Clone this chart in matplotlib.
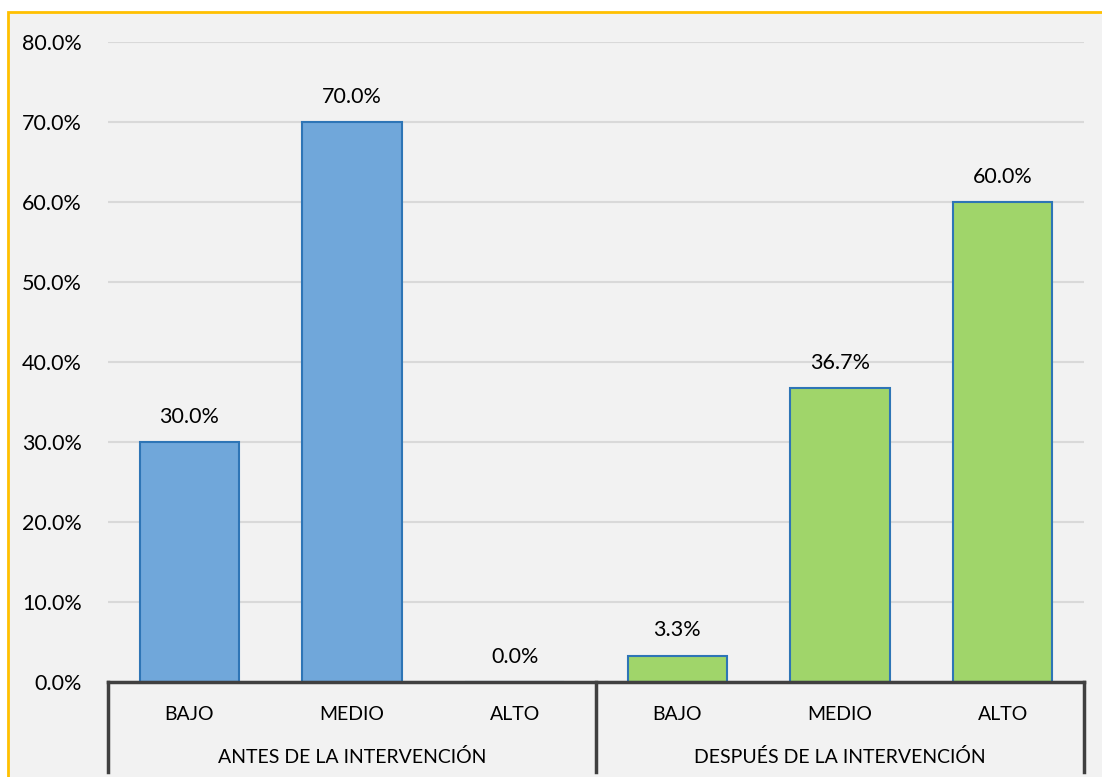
import matplotlib.pyplot as plt
from matplotlib.patches import Rectangle
from matplotlib.transforms import blended_transform_factory

plt.rcParams['font.family'] = ['Lato', 'DejaVu Sans']

# datos
grupos = ["ANTES DE LA INTERVENCIÓN", "DESPUÉS DE LA INTERVENCIÓN"]
niveles = ["BAJO", "MEDIO", "ALTO"]
antes = [30.0, 70.0, 0.0]
despues = [3.3, 36.7, 60.0]
yticks = [0, 10, 20, 30, 40, 50, 60, 70, 80]

W, H = 1102, 777
fig = plt.figure(figsize=(W / 100, H / 100), dpi=100, facecolor='white')

# marco del grafico (detras de los ejes)
fig.add_artist(Rectangle((8 / W, -0.05), 1.2, 1 - 12 / H + 0.05,
                         transform=fig.transFigure, facecolor='#f2f2f2',
                         edgecolor='#ffc000', linewidth=2, zorder=-10))

ax = fig.add_axes([108 / W, (H - 682) / H, 976 / W, 640 / H])
ax.set_facecolor('none')

x_antes = range(len(antes))
x_desp = range(len(antes), len(antes) + len(despues))
ancho = 0.61
b1 = ax.bar(x_antes, antes, width=ancho, color='#70a7da', edgecolor='#2e75b6',
            linewidth=1.5, zorder=3)
b2 = ax.bar(x_desp, despues, width=ancho, color='#a0d56a', edgecolor='#2e75b6',
            linewidth=1.5, zorder=3)

for barras, vals in ((b1, antes), (b2, despues)):
    for b, v in zip(barras, vals):
        ax.annotate(f"{v:.1f}%", (b.get_x() + b.get_width() / 2, v),
                    xytext=(0, 11), textcoords='offset points',
                    ha='center', va='bottom', fontsize=15.5, color='black')

ax.set_xlim(-0.5, 5.5)
ax.set_ylim(0, 80)
ax.set_yticks(yticks)
ax.set_yticklabels([f"{t:.1f}%" for t in yticks], fontsize=15.5)
ax.tick_params(axis='y', length=0, pad=19)
ax.set_xticks([])
ax.grid(axis='y', color='#d9d9d9', linewidth=1.5, zorder=0)
for s in ax.spines.values():
    s.set_visible(False)

# eje de categorias en dos niveles
ax.plot([0, 1], [0, 0], transform=ax.transAxes, color='#404040',
        linewidth=2.5, clip_on=False, zorder=4)
for xa in (0, 0.5, 1):
    ax.plot([xa, xa], [0, -0.141], transform=ax.transAxes, color='#404040',
            linewidth=2.5, clip_on=False, zorder=4)

tr = blended_transform_factory(ax.transData, ax.transAxes)
for i, n in enumerate(niveles * 2):
    ax.text(i, -0.05, n, transform=tr, ha='center', va='center', fontsize=14)
for j, g in enumerate(grupos):
    ax.text(1 + 3 * j, -0.117, g, transform=tr, ha='center', va='center',
            fontsize=14)

fig.savefig('out.png', dpi=100, facecolor=fig.get_facecolor())
